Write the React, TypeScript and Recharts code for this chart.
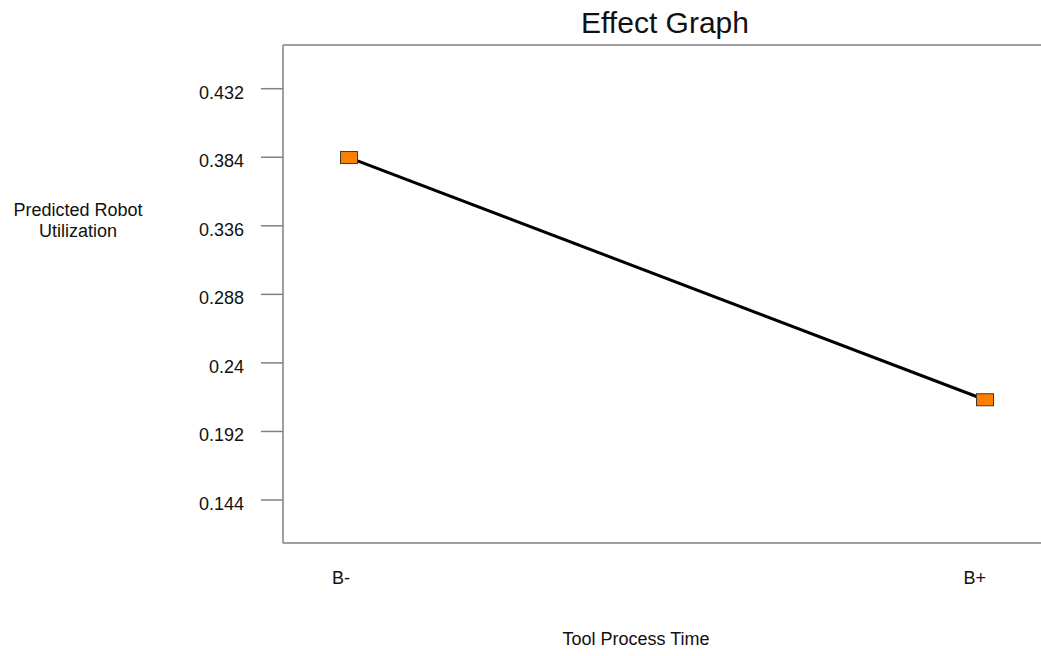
import React from "react";
import { LineChart, Line, XAxis, YAxis } from "recharts";

// factor levels on the x axis
const categories = ["B-", "B+"];
// predicted robot utilization at each level
const predicted = [0.3838, 0.2142];
const yTicks = [0.144, 0.192, 0.24, 0.288, 0.336, 0.384, 0.432];
const yDomain = [0.1139, 0.4626];
const xDomain = [0.8962, 2.1022];

const FONT = "'Liberation Sans', Arial, sans-serif";
const AXIS_GRAY = "#808080";

const data = categories.map((name, i) => ({ pos: i + 1, name, value: predicted[i] }));

function YTick(props: any) {
  const { x, y, payload } = props;
  return (
    <text x={x} y={y} dy={4} textAnchor="end" dominantBaseline="central" fontSize={18} fontFamily={FONT} fill="#111">
      {String(payload.value)}
    </text>
  );
}

function XTick(props: any) {
  const { x, y, payload } = props;
  const label = categories[Math.round(payload.value) - 1] ?? "";
  return (
    <text x={x + 1} y={y + 41} textAnchor="end" fontSize={18} fontFamily={FONT} fill="#111">
      {label}
    </text>
  );
}

function SquareDot(props: any) {
  const { cx, cy } = props;
  if (cx == null || cy == null) return null;
  return <rect x={cx - 8.5} y={cy - 6} width={17} height={12} fill="#FF8000" stroke="#3a3a3a" strokeWidth={1} />;
}

export default function App() {
  return (
    <div style={{ position: "fixed", left: 0, top: 0, width: 1041, height: 656, background: "#fff", fontFamily: FONT, overflow: "hidden" }}>
      <div style={{ position: "absolute", left: 515, width: 300, top: 8, textAlign: "center", fontSize: 30, lineHeight: "30px", color: "#111" }}>
        Effect Graph
      </div>
      <div style={{ position: "absolute", left: 0, width: 156, top: 200, textAlign: "center", fontSize: 18, lineHeight: "21px", color: "#111" }}>
        Predicted Robot
        <br />
        Utilization
      </div>
      <div style={{ position: "absolute", left: 486, width: 300, top: 629, textAlign: "center", fontSize: 18, lineHeight: "21px", color: "#111" }}>
        Tool Process Time
      </div>
      {/* plot runs past the right edge of the page, as in the original */}
      <LineChart width={1050} height={656} data={data} margin={{ top: 44, right: 0, left: 83, bottom: 53 }}>
        <XAxis
          xAxisId="top"
          orientation="top"
          dataKey="pos"
          type="number"
          domain={xDomain}
          allowDataOverflow
          height={1}
          tick={false}
          tickLine={false}
          axisLine={{ stroke: AXIS_GRAY, strokeWidth: 1.5 }}
        />
        <XAxis
          dataKey="pos"
          type="number"
          domain={xDomain}
          allowDataOverflow
          ticks={[1, 2]}
          height={60}
          tickSize={0}
          tickMargin={0}
          tickLine={false}
          tick={<XTick />}
          axisLine={{ stroke: AXIS_GRAY, strokeWidth: 1.5 }}
        />
        <YAxis
          type="number"
          domain={yDomain}
          allowDataOverflow
          ticks={yTicks}
          width={200}
          tickSize={22}
          tickMargin={17}
          tick={<YTick />}
          tickLine={{ stroke: AXIS_GRAY, strokeWidth: 1.5 }}
          axisLine={{ stroke: AXIS_GRAY, strokeWidth: 1.5 }}
        />
        <Line
          type="linear"
          dataKey="value"
          stroke="#000"
          strokeWidth={3}
          dot={<SquareDot />}
          activeDot={false}
          isAnimationActive={false}
        />
      </LineChart>
    </div>
  );
}
